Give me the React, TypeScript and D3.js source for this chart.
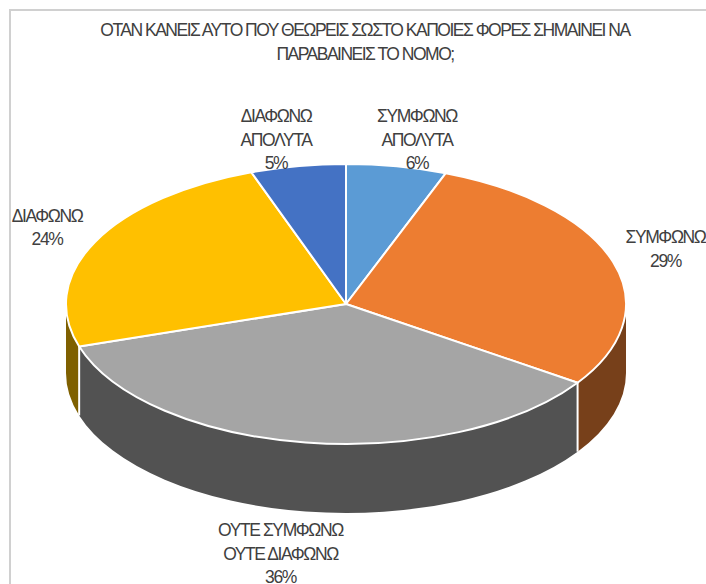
import React from 'react';
import * as d3 from 'd3';

// chart values, clockwise from 12 o'clock
const categories = [
  ['ΣΥΜΦΩΝΩ', 'ΑΠΟΛΥΤΑ'],
  ['ΣΥΜΦΩΝΩ'],
  ['ΟΥΤΕ ΣΥΜΦΩΝΩ', 'ΟΥΤΕ ΔΙΑΦΩΝΩ'],
  ['ΔΙΑΦΩΝΩ'],
  ['ΔΙΑΦΩΝΩ', 'ΑΠΟΛΥΤΑ'],
];
const values = [5.8, 28.7, 35.6, 24.41, 5.49];
const topColors = ['#5b9bd5', '#ed7d31', '#a5a5a5', '#ffc000', '#4472c4'];
const sideColors = ['#355d80', '#77401a', '#525252', '#7f6000', '#264478'];
const labelPos = [
  [417, 122],
  [665.5, 243],
  [280.5, 536],
  [47, 221.5],
  [276, 122],
];
const titleLines = [
  'ΟΤΑΝ ΚΑΝΕΙΣ ΑΥΤΟ ΠΟΥ ΘΕΩΡΕΙΣ ΣΩΣΤΟ ΚΑΠΟΙΕΣ ΦΟΡΕΣ ΣΗΜΑΙΝΕΙ ΝΑ',
  'ΠΑΡΑΒΑΙΝΕΙΣ ΤΟ ΝΟΜΟ;',
];

const cx = 346;
const cy = 304;
const rx = 280;
const ry = 140;
const depth = 69;
const lineGap = 23.5;

const pieGen = d3.pie<number>().sort(null).value(d => d);
const arcs = pieGen(values);

const px = (a: number) => cx + rx * Math.sin(a);
const py = (a: number) => cy - ry * Math.cos(a);

// elliptical top slice
function topPath(a0: number, a1: number) {
  const large = a1 - a0 > Math.PI ? 1 : 0;
  return `M${cx},${cy}L${px(a0)},${py(a0)}A${rx},${ry} 0 ${large} 1 ${px(a1)},${py(a1)}Z`;
}

// front wall of a slice, only the part facing the viewer
function sidePath(a0: number, a1: number) {
  const s = Math.max(a0, Math.PI / 2);
  const e = Math.min(a1, (3 * Math.PI) / 2);
  if (e <= s) return null;
  return `M${px(s)},${py(s)}A${rx},${ry} 0 0 1 ${px(e)},${py(e)}L${px(e)},${py(e) + depth}A${rx},${ry} 0 0 0 ${px(s)},${py(s) + depth}Z`;
}

export default function App() {
  const family = '"Liberation Sans", Arial, sans-serif';
  return (
    <svg width={706} height={584} style={{ position: 'absolute', left: 0, top: 0 }}>
      <rect x={0} y={0} width={706} height={584} fill="#fff" />
      <path d="M10,584V10H706" fill="none" stroke="#d0d0d0" strokeWidth={2} />
      {titleLines.map((t, i) => (
        <text key={i} x={365} y={36 + i * lineGap} textAnchor="middle" fontSize={17.5} fill="#404040"
          style={{ fontFamily: family, letterSpacing: '-1.5px' }}>
          {t}
        </text>
      ))}
      {arcs.map((d, i) => {
        const p = sidePath(d.startAngle, d.endAngle);
        return p ? <path key={i} d={p} fill={sideColors[i]} /> : null;
      })}
      {arcs.map((d, i) => {
        // white edge where a slice boundary drops down the front wall
        const a = d.endAngle;
        if (a <= Math.PI / 2 || a >= (3 * Math.PI) / 2) return null;
        return (
          <line key={i} x1={px(a)} y1={py(a)} x2={px(a)} y2={py(a) + depth} stroke="#fff" strokeWidth={2} />
        );
      })}
      {arcs.map((d, i) => (
        <path key={i} d={topPath(d.startAngle, d.endAngle)} fill={topColors[i]} stroke="#fff" strokeWidth={2} strokeLinejoin="round" />
      ))}
      {arcs.map((d, i) => {
        const lines = [...categories[i], `${Math.round(values[i])}%`];
        return (
          <text key={i} textAnchor="middle" fontSize={17.5} fill="#404040"
            style={{ fontFamily: family, letterSpacing: '-1.4px' }}>
            {lines.map((l, j) => (
              <tspan key={j} x={labelPos[i][0]} y={labelPos[i][1] + j * lineGap}>
                {l}
              </tspan>
            ))}
          </text>
        );
      })}
    </svg>
  );
}
